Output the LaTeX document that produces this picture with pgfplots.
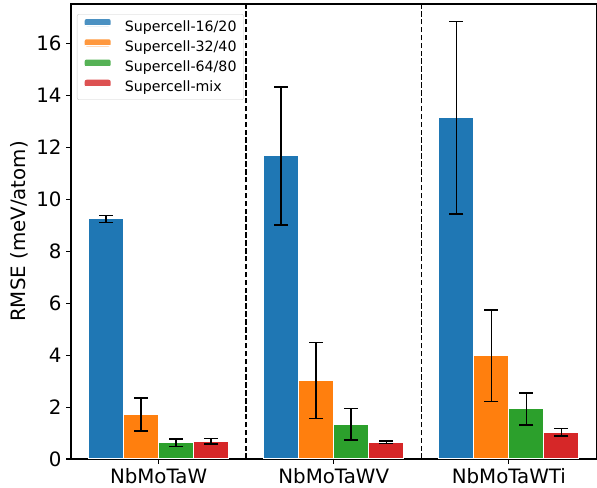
\documentclass[border=0pt]{standalone}
\usepackage{pgfplots}
\pgfplotsset{compat=1.18}
\usepackage{fontspec}
\setmainfont{DejaVu Sans}
\definecolor{tabblue}{HTML}{1F77B4}
\definecolor{taborange}{HTML}{FF7F0E}
\definecolor{tabgreen}{HTML}{2CA02C}
\definecolor{tabred}{HTML}{D62728}
\begin{document}
\begin{tikzpicture}
\begin{axis}[
  name=ax,
  scale only axis,
  width=525.5pt, height=455pt,
  xmin=-0.5, xmax=2.5,
  ymin=0, ymax=17.53,
  xtick={0,1,2},
  xticklabels={NbMoTaW,NbMoTaWV,NbMoTaWTi},
  ytick={0,2,4,6,8,10,12,14,16},
  tick align=outside,
  xtick pos=bottom, ytick pos=left,
  major tick length=4.9pt,
  every tick/.style={black, line width=1.1pt},
  axis line style={black, line width=1.1pt},
  /pgf/number format/assume math mode=true,
  tick label style={font=\fontsize{19.8}{24}\selectfont},
  xticklabel style={yshift=-1pt},
  yticklabel style={xshift=-1pt},
  ylabel={RMSE (meV/atom)},
  ylabel style={font=\fontsize{19.8}{24}\selectfont, at={(axis description cs:0,0.5)}, anchor=center, yshift=52pt},
  clip=false,
  legend cell align=left,
  legend style={
    at={(0.0114,0.978)}, anchor=north west,
    draw=black!20, fill=white, fill opacity=0.8, text opacity=1,
    rounded corners=2pt,
    font=\fontsize{14.2}{17}\selectfont,
    inner xsep=7pt, inner ysep=4.8pt,
    row sep=5pt,
    nodes={inner sep=0pt, text height=10.5pt, text depth=3pt},
    cells={inner sep=0pt, text height=10.5pt, text depth=3pt},
  },
  error bars/y dir=both,
  error bars/y explicit,
  error bars/error mark options={rotate=90, mark size=7pt, line width=1.5pt, black},
  error bars/error bar style={line width=1.5pt, black},
]
\addplot[ybar, bar width=0.2, bar shift=0, fill=tabblue, draw=white, line width=1pt,
  legend image code/.code={\fill[tabblue, draw=none] (0pt,1.5pt) rectangle (26pt,8.5pt); \path (0pt,2pt) -- (39.6pt,2pt);}]
  table[x=x, y=y, y error=e] {
x y e
-0.3 9.25 0.14
0.7 11.68 2.66
1.7 13.14 3.71
};
\addlegendentry{Supercell-16/20}
\addplot[ybar, bar width=0.2, bar shift=0, fill=taborange, draw=white, line width=1pt,
  legend image code/.code={\fill[taborange, draw=none] (0pt,1.5pt) rectangle (26pt,8.5pt); \path (0pt,2pt) -- (39.6pt,2pt);}]
  table[x=x, y=y, y error=e] {
x y e
-0.1 1.71 0.64
0.9 3.02 1.47
1.9 3.97 1.76
};
\addlegendentry{Supercell-32/40}
\addplot[ybar, bar width=0.2, bar shift=0, fill=tabgreen, draw=white, line width=1pt,
  legend image code/.code={\fill[tabgreen, draw=none] (0pt,1.5pt) rectangle (26pt,8.5pt); \path (0pt,2pt) -- (39.6pt,2pt);}]
  table[x=x, y=y, y error=e] {
x y e
0.1 0.62 0.14
1.1 1.34 0.61
2.1 1.93 0.62
};
\addlegendentry{Supercell-64/80}
\addplot[ybar, bar width=0.2, bar shift=0, fill=tabred, draw=white, line width=1pt,
  legend image code/.code={\fill[tabred, draw=none] (0pt,1.5pt) rectangle (26pt,8.5pt); \path (0pt,2pt) -- (39.6pt,2pt);}]
  table[x=x, y=y, y error=e] {
x y e
0.3 0.68 0.10
1.3 0.64 0.05
2.3 1.03 0.14
};
\addlegendentry{Supercell-mix}
\addplot[sharp plot, black, line width=1.5pt, dash pattern=on 5.5pt off 2.4pt, forget plot, no markers]
  coordinates {(0.5,0) (0.5,17.53)};
\addplot[sharp plot, black, line width=1.5pt, dash pattern=on 5.5pt off 2.4pt, forget plot, no markers]
  coordinates {(1.5,0) (1.5,17.53)};
\end{axis}
\path ([xshift=-71pt,yshift=-28pt]ax.south west) rectangle ([xshift=0.5pt,yshift=4pt]ax.north east);
\end{tikzpicture}
\end{document}
